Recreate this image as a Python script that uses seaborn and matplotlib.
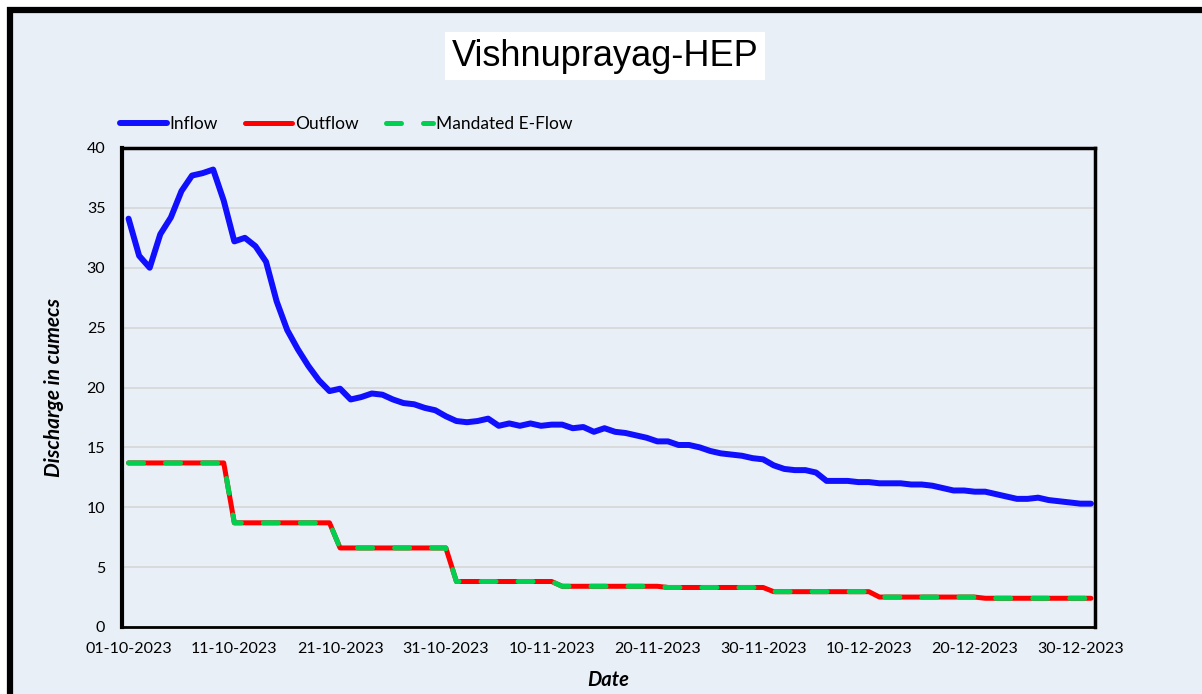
import pandas as pd
import numpy as np
import seaborn as sns
import matplotlib.pyplot as plt
import matplotlib.dates as mdates
from matplotlib.patches import Rectangle

# Dados diarios (01-10-2023 a 31-12-2023)
inflow = [34.1, 31.0, 30.0, 32.8, 34.2, 36.4, 37.7, 37.9, 38.2, 35.6,
          32.2, 32.5, 31.8, 30.5, 27.2, 24.8, 23.2, 21.8, 20.6, 19.7,
          19.9, 19.0, 19.2, 19.5, 19.4, 19.0, 18.7, 18.6, 18.3, 18.1,
          17.6, 17.2, 17.1, 17.2, 17.4, 16.8, 17.0, 16.8, 17.0, 16.8,
          16.9, 16.9, 16.6, 16.7, 16.3, 16.6, 16.3, 16.2, 16.0, 15.8,
          15.5, 15.5, 15.2, 15.2, 15.0, 14.7, 14.5, 14.4, 14.3, 14.1,
          14.0, 13.5, 13.2, 13.1, 13.1, 12.9, 12.2, 12.2, 12.2, 12.1,
          12.1, 12.0, 12.0, 12.0, 11.9, 11.9, 11.8, 11.6, 11.4, 11.4,
          11.3, 11.3, 11.1, 10.9, 10.7, 10.7, 10.8, 10.6, 10.5, 10.4,
          10.3, 10.3]

outflow = ([13.7] * 10 + [8.7] * 10 + [6.6] * 11 + [3.8] * 10 + [3.4] * 10 +
           [3.3] * 10 + [2.95] * 10 + [2.5] * 10 + [2.4] * 11)
eflow = list(outflow)

datas = pd.date_range('2023-10-01', '2023-12-31', freq='D')
df = pd.DataFrame({'Date': datas, 'Inflow': inflow, 'Outflow': outflow,
                   'Mandated E-Flow': eflow})

bg = '#E9EFF7'
sns.set_theme(style='white')
plt.rcParams['font.family'] = ['Lato', 'DejaVu Sans']
plt.rcParams['text.color'] = 'black'
plt.rcParams['axes.labelcolor'] = 'black'

fig = plt.figure(figsize=(12.02, 6.94), dpi=100, facecolor='white')
fig.patches.append(Rectangle((10 / 1202, -0.05), 1.1, 1 - 10 / 694 + 0.05,
                             transform=fig.transFigure, facecolor=bg,
                             edgecolor='black', linewidth=4.5, zorder=-10))

ax = fig.add_axes([122 / 1202, 1 - 627 / 694, (1095 - 122) / 1202, (627 - 148) / 694])
ax.set_facecolor(bg)

sns.lineplot(data=df, x='Date', y='Inflow', ax=ax, color='#1010FF',
             linewidth=4.3, label='Inflow')
sns.lineplot(data=df, x='Date', y='Outflow', ax=ax, color='#FF0000',
             linewidth=3.6, label='Outflow')
l = sns.lineplot(data=df, x='Date', y='Mandated E-Flow', ax=ax, color='#00D050',
                 linewidth=3.6, label='Mandated E-Flow')
l.lines[-1].set_dashes((3, 4.4))
l.lines[-1].set_dash_capstyle('round')

ax.set_ylim(0, 40)
ax.set_yticks(range(0, 41, 5))
inicio = datas[0]
ax.set_xlim(inicio - pd.Timedelta(days=0.62), datas[-1] + pd.Timedelta(days=0.38))
ax.set_xticks(pd.date_range('2023-10-01', '2023-12-30', freq='10D'))
ax.xaxis.set_major_formatter(mdates.DateFormatter('%d-%m-%Y'))
ax.tick_params(axis='both', length=0, labelsize=11.5, colors='black', pad=11)
ax.tick_params(axis='y', pad=12)

ax.grid(axis='y', color='#D6D6D6', linewidth=1.2)
ax.grid(axis='x', visible=False)
for lado in ['left', 'top', 'right', 'bottom']:
    ax.spines[lado].set_color('black')
    ax.spines[lado].set_visible(True)
ax.spines['left'].set_linewidth(3)
ax.spines['top'].set_linewidth(2.5)
ax.spines['right'].set_linewidth(2.5)
ax.spines['bottom'].set_linewidth(2)

ax.set_xlabel('Date', fontsize=14.5, fontweight='bold', fontstyle='italic', labelpad=10)
ax.set_ylabel('Discharge in cumecs', fontsize=15, fontweight='bold',
              fontstyle='italic', labelpad=16)

handles, labels = ax.get_legend_handles_labels()
ax.get_legend().remove()
fig.legend(handles, labels, loc='center left', bbox_to_anchor=(104 / 1202, 1 - 124 / 694),
           ncol=3, frameon=False, fontsize=12.5, handlelength=2.7,
           handletextpad=0.15, columnspacing=1.6)

fig.text(605 / 1202, 1 - 56 / 694, 'Vishnuprayag-HEP', ha='center', va='center',
         fontsize=26, family='Liberation Sans', color='black',
         bbox=dict(facecolor='white', edgecolor='none', pad=5))

plt.savefig('out.png', dpi=100, facecolor=fig.get_facecolor())
